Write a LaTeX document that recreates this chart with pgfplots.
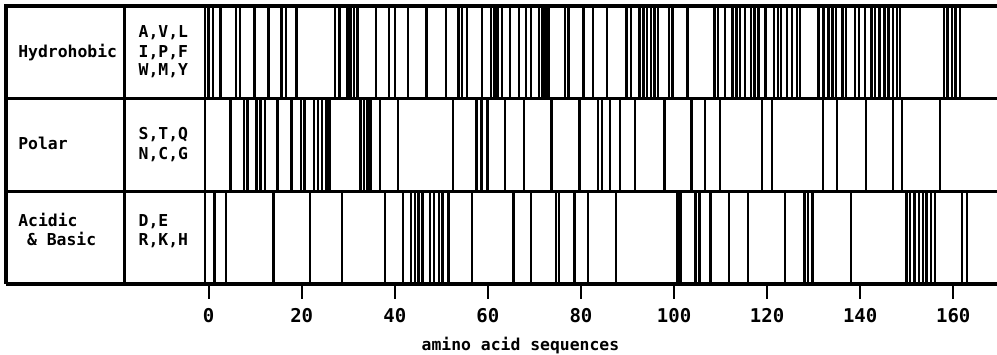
\documentclass[border=0pt]{standalone}
\usepackage{pgfplots}
\pgfplotsset{compat=1.18}
\usepackage{fontspec}
\newfontfamily\mono{DejaVu Sans Mono}
\newcommand{\lbl}{\mono\bfseries\fontsize{8.2}{9.5}\selectfont}
\pgfplotsset{
  rowbars/.style={draw=none, mark=none,
    error bars/.cd, y dir=both, y fixed=0.5, error mark=none,
    error bar style={draw=black, line width=1.25pt}}
}
\begin{document}
\begin{tikzpicture}
\begin{axis}[
  scale only axis,
  width=495.5pt, height=139pt,
  xmin=-43.55, xmax=169.4, ymin=0, ymax=3,
  axis x line*=bottom,
  axis y line=none,
  x axis line style={-, line width=1.6pt},
  xtick={0,20,...,160},
  ytick=\empty,
  tick align=outside,
  major tick length=7pt,
  tick style={draw=black, line width=1pt},
  /pgf/number format/assume math mode=true,
  xticklabel style={font=\mono\bfseries\fontsize{9.5}{10}\selectfont, yshift=-1.5pt},
  clip=false,
]
% Hydrophobic row
\addplot[rowbars] coordinates {
(0,2.5) (0.9,2.5) (2.5,2.5) (5.9,2.5) (6.7,2.5) (9.9,2.5) (12.9,2.5) (15.7,2.5) (16.6,2.5) (18.9,2.5)
(27.1,2.5) (28.1,2.5) (29.8,2.5) (30.5,2.5) (31.2,2.5) (32.0,2.5) (36.0,2.5) (38.7,2.5) (40.0,2.5) (42.8,2.5)
(46.8,2.5) (51.0,2.5) (53.7,2.5) (54.4,2.5) (55.5,2.5) (58.7,2.5) (60.7,2.5) (61.4,2.5) (62.1,2.5) (63.0,2.5)
(64.7,2.5) (66.7,2.5) (68.2,2.5) (69.3,2.5) (71.0,2.5) (71.7,2.5) (72.4,2.5) (73.0,2.5) (76.6,2.5) (77.3,2.5)
(80.5,2.5) (82.6,2.5) (85.6,2.5) (89.8,2.5) (90.7,2.5) (92.6,2.5) (93.4,2.5) (94.2,2.5) (95.0,2.5) (95.8,2.5)
(96.6,2.5) (98.9,2.5) (99.7,2.5) (102.9,2.5) (108.7,2.5) (109.5,2.5) (111.0,2.5) (112.6,2.5) (113.4,2.5) (114.2,2.5)
(115.2,2.5) (116.5,2.5) (117.3,2.5) (118.2,2.5) (119.6,2.5) (121.5,2.5) (122.3,2.5) (123.0,2.5) (124.3,2.5) (125.4,2.5)
(126.4,2.5) (127.1,2.5) (131.0,2.5) (132.1,2.5) (133.2,2.5) (134.0,2.5) (134.8,2.5) (136.2,2.5) (137.0,2.5) (138.9,2.5)
(139.7,2.5) (141.0,2.5) (142.4,2.5) (143.2,2.5) (144.2,2.5) (145.2,2.5) (146.1,2.5) (147.0,2.5) (147.9,2.5) (148.6,2.5)
(158.0,2.5) (158.8,2.5) (159.7,2.5) (160.5,2.5) (161.4,2.5)
};
% Polar row
\addplot[rowbars] coordinates {
(4.7,1.5) (7.6,1.5) (8.3,1.5) (10.3,1.5) (11.1,1.5) (12.1,1.5) (14.8,1.5) (17.8,1.5) (19.8,1.5) (20.6,1.5)
(22.6,1.5) (23.5,1.5) (24.4,1.5) (25.3,1.5) (26.0,1.5) (32.6,1.5) (33.4,1.5) (34.1,1.5) (34.8,1.5) (36.8,1.5)
(40.7,1.5) (52.5,1.5) (57.6,1.5) (58.6,1.5) (59.9,1.5) (63.7,1.5) (67.8,1.5) (73.7,1.5) (79.7,1.5) (83.7,1.5)
(84.5,1.5) (86.2,1.5) (88.4,1.5) (91.6,1.5) (97.9,1.5) (103.8,1.5) (106.6,1.5) (109.9,1.5) (118.9,1.5) (121.0,1.5)
(132.0,1.5) (135.0,1.5) (141.2,1.5) (147.0,1.5) (149.0,1.5) (157.1,1.5)
};
% Acidic & Basic row
\addplot[rowbars] coordinates {
(1.3,0.5) (3.7,0.5) (13.9,0.5) (21.8,0.5) (28.6,0.5) (37.9,0.5) (41.8,0.5) (43.5,0.5) (44.3,0.5) (45.1,0.5)
(46.0,0.5) (47.6,0.5) (48.4,0.5) (49.5,0.5) (50.3,0.5) (51.5,0.5) (56.6,0.5) (65.5,0.5) (69.3,0.5) (74.6,0.5)
(75.3,0.5) (78.6,0.5) (81.5,0.5) (87.5,0.5) (100.7,0.5) (101.4,0.5) (104.6,0.5) (105.5,0.5) (107.8,0.5) (111.8,0.5)
(115.9,0.5) (123.8,0.5) (128.0,0.5) (128.8,0.5) (129.8,0.5) (138.0,0.5) (150.0,0.5) (150.7,0.5) (151.7,0.5) (152.6,0.5)
(153.5,0.5) (154.3,0.5) (155.2,0.5) (156.1,0.5) (161.9,0.5) (163.0,0.5)
};
% tick marks below the axis
\addplot[draw=none, mark=none,
  error bars/.cd, y dir=minus, y fixed=0.16, error mark=none,
  error bar style={draw=black, line width=1.1pt}]
  coordinates {(0,0) (20,0) (40,0) (60,0) (80,0) (100,0) (120,0) (140,0) (160,0)};
% frame
\draw[line width=1.6pt] (axis cs:169.4,3) -- (axis cs:-43.55,3) -- (axis cs:-43.55,0);
\draw[line width=1.6pt] (axis cs:-43.55,2) -- (axis cs:169.4,2);
\draw[line width=1.6pt] (axis cs:-43.55,1) -- (axis cs:169.4,1);
\draw[line width=1.3pt] (axis cs:-18.13,0) -- (axis cs:-18.13,3);
\draw[line width=1.3pt] (axis cs:-0.8,0) -- (axis cs:-0.8,3);
% labels
\node[anchor=mid west, inner sep=0pt, font=\lbl] at (axis cs:-41.0,2.49) {Hydrohobic};
\node[anchor=mid west, inner sep=0pt, font=\lbl] at (axis cs:-41.0,1.50) {Polar};
\node[anchor=mid west, inner sep=0pt, font=\lbl] at (axis cs:-41.0,0.672) {Acidic};
\node[anchor=mid west, inner sep=0pt, font=\lbl] at (axis cs:-39.1,0.457) {\& Basic};
\node[anchor=mid west, inner sep=0pt, font=\lbl] at (axis cs:-15.13,2.705) {A,V,L};
\node[anchor=mid west, inner sep=0pt, font=\lbl] at (axis cs:-15.13,2.49) {I,P,F};
\node[anchor=mid west, inner sep=0pt, font=\lbl] at (axis cs:-15.13,2.30) {W,M,Y};
\node[anchor=mid west, inner sep=0pt, font=\lbl] at (axis cs:-15.13,1.608) {S,T,Q};
\node[anchor=mid west, inner sep=0pt, font=\lbl] at (axis cs:-15.13,1.392) {N,C,G};
\node[anchor=mid west, inner sep=0pt, font=\lbl] at (axis cs:-15.13,0.672) {D,E};
\node[anchor=mid west, inner sep=0pt, font=\lbl] at (axis cs:-15.13,0.457) {R,K,H};
\node[anchor=center, inner sep=0pt, font=\lbl, yshift=-31pt] at (axis cs:67,0) {amino acid sequences};
\coordinate (bl) at (rel axis cs:0,0);
\coordinate (tr) at (rel axis cs:1,1);
\end{axis}
\pgfresetboundingbox
\path ([xshift=-3pt,yshift=-35pt]bl) rectangle ([yshift=3pt]tr);
\end{tikzpicture}
\end{document}
